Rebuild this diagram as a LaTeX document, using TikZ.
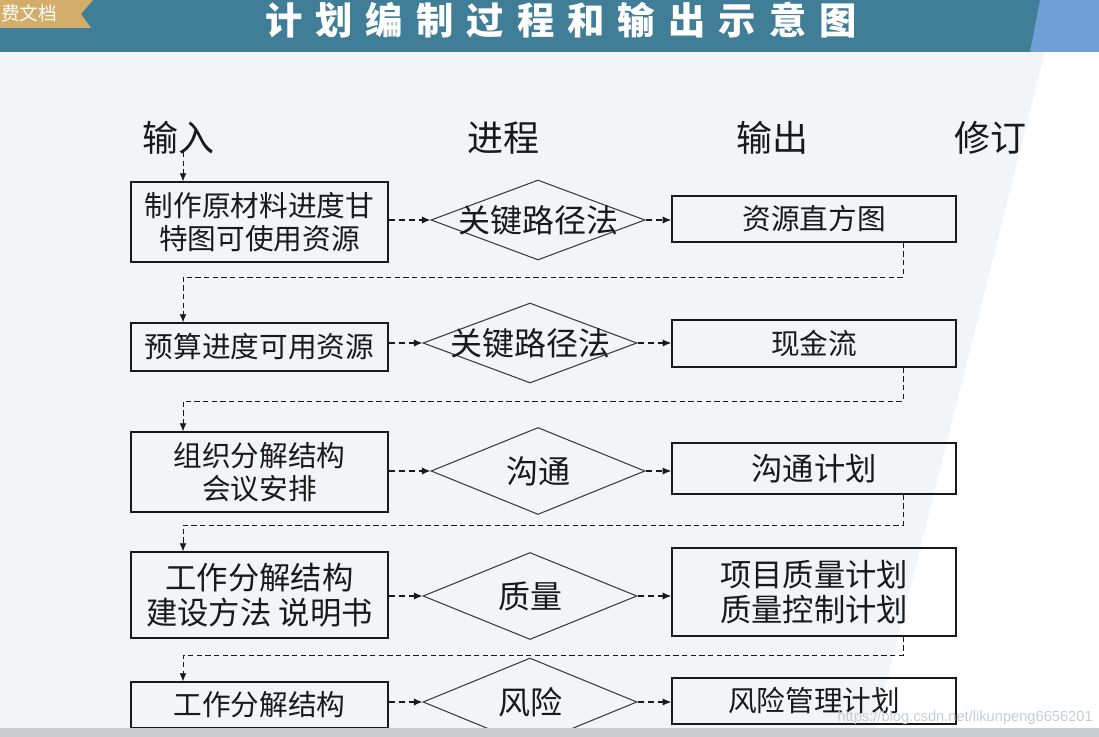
\documentclass[tikz,border=0pt]{standalone}
\usepackage{fontspec}
\setmainfont{Noto Sans CJK SC}
\newfontfamily\titlefont{Noto Sans CJK SC}[LetterSpace=35]
\newfontfamily\wmfont{Liberation Sans}
\usetikzlibrary{shapes.geometric,arrows.meta}
\definecolor{pagebg}{RGB}{241,245,248}
\definecolor{barblue}{RGB}{64,125,151}
\definecolor{cornerblue}{RGB}{110,160,214}
\definecolor{taggold}{RGB}{211,173,106}
\definecolor{footgray}{RGB}{200,204,207}
\definecolor{ink}{RGB}{25,25,25}
\definecolor{wmgray}{RGB}{200,205,210}
\begin{document}
\begin{tikzpicture}[x=0.75pt,y=-0.75pt,
  inbox/.style={draw=ink,line width=1pt,inner sep=2pt,minimum width=192.75pt,align=center,text=ink,font=\fontsize{21.5pt}{24.75pt}\selectfont},
  outbox/.style={draw=ink,line width=1pt,inner sep=2pt,minimum width=213pt,align=center,text=ink,font=\fontsize{21.5pt}{26pt}\selectfont},
  proc/.style={diamond,draw=ink!85,line width=0.8pt,inner sep=0pt,minimum width=160.5pt,label={[text=ink,font=\fontsize{24pt}{28pt}\selectfont]center:#1}},
  head/.style={text=ink,font=\fontsize{27pt}{30pt}\selectfont},
  flow/.style={draw=ink,dash pattern=on 4.5pt off 3pt,line width=1pt,-{Latex[length=6.5pt,width=5.5pt]}},
  back/.style={draw=ink,dash pattern=on 4pt off 2.5pt,line width=0.6pt,-{Latex[length=6pt,width=5pt]}}]
\useasboundingbox (0,0) rectangle (1099,737);
\fill[pagebg] (0,0) rectangle (1099,737);
\fill[white] (1045,52) -- (1099,52) -- (1099,737) -- (873,737) -- cycle;
\fill[barblue] (0,0) rectangle (1099,52);
\fill[cornerblue] (1040,0) -- (1099,0) -- (1099,52) -- (1030,52) -- cycle;
\fill[taggold] (0,0) -- (93,0) -- (81,14) -- (91,28) -- (0,28) -- cycle;
\node[text=white,anchor=west,inner sep=0pt,font=\fontsize{14pt}{16pt}\selectfont] (tag) at (1,13) {费文档};
\node[text=white,font=\titlefont\bfseries\fontsize{28pt}{32pt}\selectfont] (title) at (561,20) {计划编制过程和输出示意图};

\node[head] (hin) at (178,138) {输入};
\node[head] (hproc) at (503,138) {进程};
\node[head] (hout) at (772,138) {输出};
\node[head] (hrev) at (990,138) {修订};

\node[inbox,minimum height=60pt] (in1) at (259.5,222) {制作原材料进度甘\\特图可使用资源};
\node[inbox,minimum height=36pt] (in2) at (259.5,347) {预算进度可用资源};
\node[inbox,minimum height=60pt] (in3) at (259.5,472) {组织分解结构\\会议安排};
\node[inbox,minimum height=64.5pt,font=\fontsize{23.5pt}{26.25pt}\selectfont] (in4) at (259.5,595) {工作分解结构\\建设方法 说明书};
\node[inbox,minimum height=34.5pt] (in5) at (259.5,705) {工作分解结构};

\node[proc=关键路径法,minimum height=60pt] (p1) at (538,220) {};
\node[proc=关键路径法,minimum height=60pt] (p2) at (530,343) {};
\node[proc=沟通,minimum height=65.25pt] (p3) at (538,471) {};
\node[proc=质量,minimum height=65.25pt] (p4) at (530,596) {};
\node[proc=风险,minimum height=66pt] (p5) at (530,702) {};

\node[outbox,minimum height=34.5pt] (out1) at (814,219) {资源直方图};
\node[outbox,minimum height=35.25pt] (out2) at (814,343.5) {现金流};
\node[outbox,minimum height=38.25pt,font=\fontsize{23.5pt}{26pt}\selectfont] (out3) at (814,468.5) {沟通计划};
\node[outbox,minimum height=66pt,font=\fontsize{23.5pt}{26.25pt}\selectfont] (out4) at (814,592) {项目质量计划\\质量控制计划};
\node[outbox,minimum height=34.5pt] (out5) at (814,701) {风险管理计划};

\draw[flow] (in1.east |- p1.west) -- (p1.west);
\draw[flow] (in2.east |- p2.west) -- (p2.west);
\draw[flow] (in3.east |- p3.west) -- (p3.west);
\draw[flow] (in4.east |- p4.west) -- (p4.west);
\draw[flow] (in5.east |- p5.west) -- (p5.west);
\draw[flow] (p1.east) -- (p1.east -| out1.west);
\draw[flow] (p2.east) -- (p2.east -| out2.west);
\draw[flow] (p3.east) -- (p3.east -| out3.west);
\draw[flow] (p4.east) -- (p4.east -| out4.west);
\draw[flow] (p5.east) -- (p5.east -| out5.west);

\coordinate (top) at (183,152);
\coordinate (r1) at (903,277);
\coordinate (l1) at (183,277);
\coordinate (r2) at (903,401);
\coordinate (l2) at (183,401);
\coordinate (r3) at (903,525);
\coordinate (l3) at (183,525);
\coordinate (r4) at (903,655);
\coordinate (l4) at (183,655);
\draw[back] (top) -- (in1.north -| top);
\draw[back] (out1.south -| r1) -- (r1) -- (l1) -- (in2.north -| l1);
\draw[back] (out2.south -| r2) -- (r2) -- (l2) -- (in3.north -| l2);
\draw[back] (out3.south -| r3) -- (r3) -- (l3) -- (in4.north -| l3);
\draw[back] (out4.south -| r4) -- (r4) -- (l4) -- (in5.north -| l4);

\fill[footgray] (0,728) rectangle (1099,737);
\node[text=wmgray,anchor=east,inner sep=0pt,font=\wmfont\fontsize{11pt}{13pt}\selectfont] (mark) at (1093,718) {https://blog.csdn.net/likunpeng6656201};
\end{tikzpicture}
\end{document}
